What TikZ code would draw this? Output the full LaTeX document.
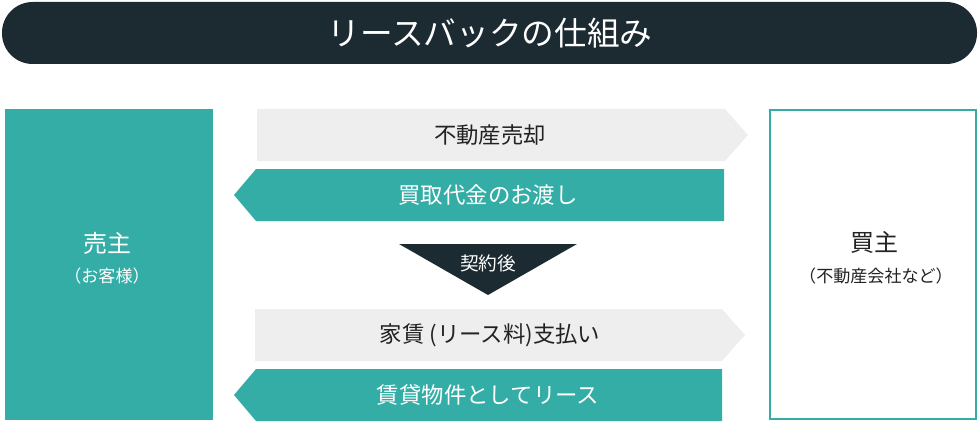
\documentclass[tikz,border=0pt]{standalone}
\usepackage{fontspec}
\newfontfamily\jpfont{Noto Sans CJK JP}
\usetikzlibrary{calc}
\definecolor{leaseteal}{HTML}{33ADA5}
\definecolor{leasedark}{HTML}{1C2B31}
\definecolor{leasegray}{HTML}{EEEEEE}
\definecolor{leasetext}{HTML}{222222}

\begin{document}
\begin{tikzpicture}[x=0.75pt,y=-0.75pt,
	bandtext/.style={font=\jpfont\fontsize{16.8}{19}\selectfont},
	boxtitle/.style={font=\jpfont\fontsize{18}{21}\selectfont},
	boxsub/.style={font=\jpfont\fontsize{12.8}{15}\selectfont}]
			%%%%% START %%%%%
			\useasboundingbox (0,0) rectangle (980,424);
			
			\fill[leasedark, rounded corners=23pt] (2,2) rectangle (977,64);
			\node[text=white, font=\jpfont\fontsize{24.5}{28}\selectfont] (title) at (490,33) {リースバックの仕組み};
			
			\fill[leaseteal] (5,109) rectangle (213,420);
			\node[boxtitle, text=white] (seller) at (107,243) {売主};
			\node[boxsub, text=white] (sellersub) at (107,276) {（お客様）};
			
			\draw[leaseteal, line width=1.6pt] (770,110) rectangle (976,419);
			\node[boxtitle, text=leasetext] (buyer) at (874,242) {買主};
			\node[boxsub, text=leasetext] (buyersub) at (876,276) {（不動産会社など）};
			
			\fill[leasegray] (257,109) -- (725,109) -- (748,135) -- (725,161) -- (257,161) -- cycle;
			\node[bandtext, text=leasetext] (sale) at (490,135) {不動産売却};
			
			\fill[leaseteal] (256,169) -- (724,169) -- (724,221) -- (256,221) -- (234,195) -- cycle;
			\node[bandtext, text=white] (payment) at (488,195) {買取代金のお渡し};
			
			\fill[leasedark] (399,244) -- (577,244) -- (488,295) -- cycle;
			\node[font=\jpfont\fontsize{14}{16}\selectfont, text=white] (after) at (488,263) {契約後};
			
			\fill[leasegray] (255,309) -- (722,309) -- (745,335) -- (722,361) -- (255,361) -- cycle;
			\node[bandtext, text=leasetext] (rent) at (490,335) {家賃 (リース料)支払い};
			
			\fill[leaseteal] (256,369) -- (722,369) -- (722,421) -- (256,421) -- (234,395) -- cycle;
			\node[bandtext, text=white] (lease) at (488,395) {賃貸物件としてリース};
			%%%%% END %%%%%
\end{tikzpicture}
\end{document}
